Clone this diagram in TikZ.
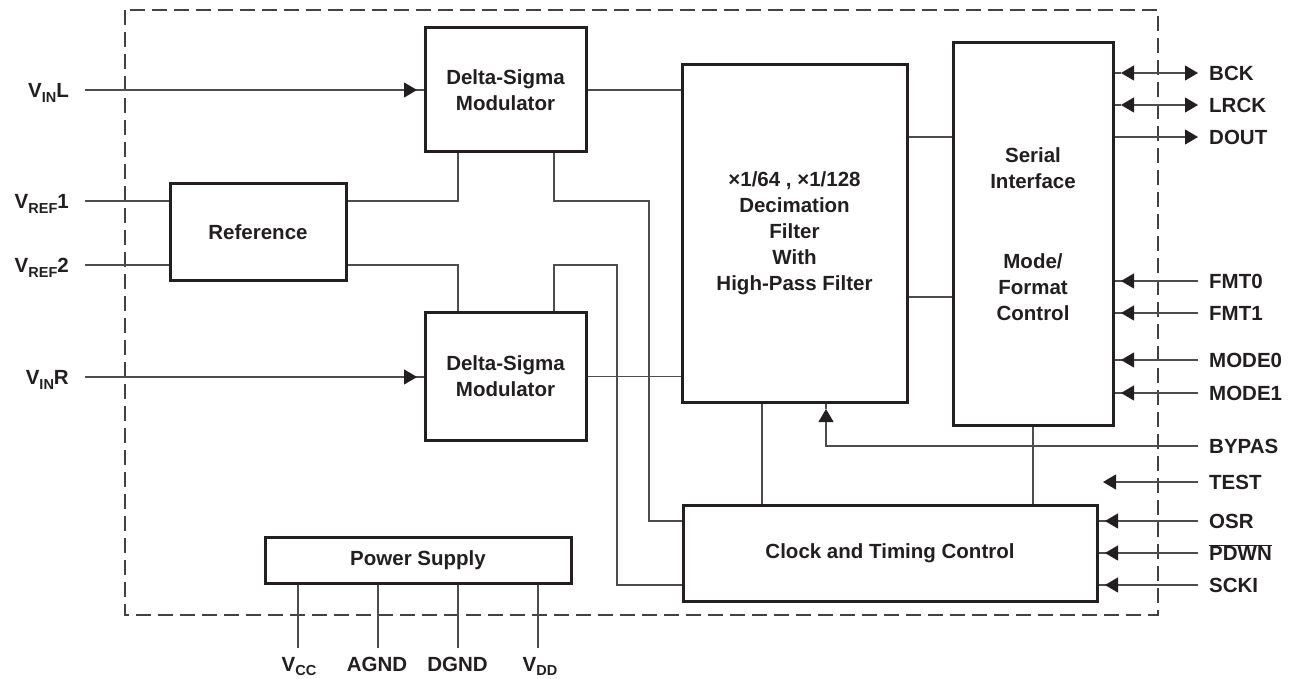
\documentclass[tikz,border=0pt]{standalone}
\usepackage{fontspec}
\setmainfont{Liberation Sans}
\usetikzlibrary{arrows.meta}
\definecolor{ink}{HTML}{231F20}
\definecolor{wire}{HTML}{4D4D4D}
\newcommand\sbs[1]{\raisebox{-5pt}{\fontsize{14.5}{14.5}\selectfont #1}}
\begin{document}
\begin{tikzpicture}[x=1pt,y=-1pt,
  txt/.style={font=\fontsize{20.5}{26}\selectfont\bfseries, text=ink, inner sep=0pt},
  blk/.style={txt, draw=ink, line width=3pt, align=center},
  conn/.style={draw=wire, line width=1.1pt},
  tip/.style={-{Triangle[length=13pt,width=15pt,color=ink]}},
  ditip/.style={{Triangle[length=13pt,width=15pt,color=ink]}-{Triangle[length=13pt,width=15pt,color=ink]}},
  pinR/.style={txt, anchor=base west},
  pinL/.style={txt, anchor=base east},
  pinB/.style={txt, anchor=base},
  chip/.style={draw=ink!85, line width=1.2pt, dash pattern=on 15pt off 7pt}]
\useasboundingbox (0,0) rectangle (1294,679);
\draw[chip] (125,10) rectangle (1158,615);

% blocks
\node[blk, minimum width=161pt, minimum height=124pt] (dsl) at (505.5,90) {Delta-Sigma\\Modulator};
\node[blk, minimum width=161pt, minimum height=127pt] (dsr) at (505.5,376.5) {Delta-Sigma\\Modulator};
\node[blk, minimum width=176pt, minimum height=97pt] (ref) at (258,232.5) {Reference};
\node[blk, minimum width=225pt, minimum height=337pt] (dec) at (794.5,233.5) {\texttimes1/64 , \texttimes1/128\\Decimation\\Filter\\With\\High-Pass Filter};
\node[blk, minimum width=160pt, minimum height=382pt] (ser) at (1033,234) {Serial\\Interface\\[54pt]Mode/\\Format\\Control};
\node[blk, minimum width=414pt, minimum height=96pt] (clk) at (890,553) {Clock and Timing Control};
\node[blk, minimum width=306pt, minimum height=46pt] (pwr) at (418,560) {Power Supply};

% helper columns / rows
\coordinate (c458) at (458,0);
\coordinate (c554) at (554,0);
\coordinate (c617) at (617,0);
\coordinate (c649) at (649,0);
\coordinate (c762) at (762,0);
\coordinate (r297) at (0,297);

% left pins
\coordinate (pVINL) at (85,90);
\coordinate (pVREF1) at (85,201);
\coordinate (pVREF2) at (85,265);
\coordinate (pVINR) at (85,377);
\coordinate (tVINL) at (417,90);
\coordinate (tVINR) at (417,377);
\node[pinL] (lVINL) at (69,97.5) {V\sbs{IN}L};
\node[pinL] (lVREF1) at (69,208.5) {V\sbs{REF}1};
\node[pinL] (lVREF2) at (69,272.5) {V\sbs{REF}2};
\node[pinL] (lVINR) at (69,384.5) {V\sbs{IN}R};

\draw[conn] (pVINL) -- (dsl.west |- pVINL);
\draw[conn,tip] (pVINL) -- (tVINL);
\draw[conn] (pVINR) -- (dsr.west |- pVINR);
\draw[conn,tip] (pVINR) -- (tVINR);
\draw[conn] (pVREF1) -- (ref.west |- pVREF1);
\draw[conn] (pVREF2) -- (ref.west |- pVREF2);

% internal wiring
\draw[conn] (dsl.east) -- (dec.west |- dsl.east);
\draw[conn] (dsr.east) -- (dec.west |- dsr.east);
\draw[conn] (ref.east |- pVREF1) -| (dsl.south -| c458);
\draw[conn] (ref.east |- pVREF2) -| (dsr.north -| c458);

% right pins
\coordinate (pBCK) at (1198,73);
\coordinate (pLRCK) at (1198,105);
\coordinate (pDOUT) at (1198,137);
\coordinate (pFMT0) at (1198,281);
\coordinate (pFMT1) at (1198,313);
\coordinate (pMODE0) at (1198,360);
\coordinate (pMODE1) at (1198,393);
\coordinate (pBYP) at (1198,446);
\coordinate (pTEST) at (1198,482);
\coordinate (pOSR) at (1198,521);
\coordinate (pPDWN) at (1198,553);
\coordinate (pSCKI) at (1198,585);

\coordinate (tBCK) at (1121,73);
\coordinate (tLRCK) at (1121,105);
\coordinate (tFMT0) at (1121,281);
\coordinate (tFMT1) at (1121,313);
\coordinate (tMODE0) at (1121,360);
\coordinate (tMODE1) at (1121,393);
\coordinate (tBYP) at (826,409);
\coordinate (tTEST) at (1103,482);
\coordinate (tOSR) at (1105,521);
\coordinate (tPDWN) at (1105,553);
\coordinate (tSCKI) at (1105,585);

\draw[conn] (dec.east |- pDOUT) -- (ser.west |- pDOUT);
\draw[conn] (dec.east |- r297) -- (ser.west |- r297);

\draw[conn] (dsl.south -| c554) |- (c649 |- pVREF1) -- (c649 |- pOSR) -- (clk.west |- pOSR);
\draw[conn] (dsr.north -| c554) |- (c617 |- pVREF2) -- (c617 |- pSCKI) -- (clk.west |- pSCKI);
\draw[conn] (dec.south -| c762) -- (clk.north -| c762);
\draw[conn] (ser.south) -- (clk.north -| ser.south);

\draw[conn] (ser.east |- pBCK) -- (tBCK);
\draw[conn,ditip] (tBCK) -- (pBCK);
\draw[conn] (ser.east |- pLRCK) -- (tLRCK);
\draw[conn,ditip] (tLRCK) -- (pLRCK);
\draw[conn,tip] (ser.east |- pDOUT) -- (pDOUT);

\foreach \p in {FMT0,FMT1,MODE0,MODE1}{
  \draw[conn] (p\p) -- (ser.east |- p\p);
  \draw[conn,tip] (p\p) -- (t\p);
}
\foreach \p in {OSR,PDWN,SCKI}{
  \draw[conn] (p\p) -- (clk.east |- p\p);
  \draw[conn,tip] (p\p) -- (t\p);
}
\draw[conn,tip] (pTEST) -- (tTEST);
\draw[conn,tip] (pBYP) -| (tBYP);
\draw[conn] (tBYP) -- (dec.south -| tBYP);

\node[pinR] (lBCK) at (1209,80.5) {BCK};
\node[pinR] (lLRCK) at (1209,112.5) {LRCK};
\node[pinR] (lDOUT) at (1209,144.5) {DOUT};
\node[pinR] (lFMT0) at (1209,288.5) {FMT0};
\node[pinR] (lFMT1) at (1209,320.5) {FMT1};
\node[pinR] (lMODE0) at (1209,367.5) {MODE0};
\node[pinR] (lMODE1) at (1209,400.5) {MODE1};
\node[pinR] (lBYP) at (1209,453.5) {BYPAS};
\node[pinR] (lTEST) at (1209,489.5) {TEST};
\node[pinR] (lOSR) at (1209,528.5) {OSR};
\node[pinR] (lPDWN) at (1209,560.5) {$\overline{\hbox{PDWN}}$};
\node[pinR] (lSCKI) at (1209,592.5) {SCKI};

% power pins
\coordinate (pVCC) at (298,648);
\coordinate (pAGND) at (378,648);
\coordinate (pDGND) at (458,648);
\coordinate (pVDD) at (538,648);
\foreach \p in {VCC,AGND,DGND,VDD}{
  \draw[conn] (pwr.south -| p\p) -- (p\p);
}
\node[pinB] (lVCC) at (299,671) {V\raisebox{-4pt}{\fontsize{14.5}{14.5}\selectfont CC}};
\node[pinB] (lAGND) at (377,671) {AGND};
\node[pinB] (lDGND) at (457.5,671) {DGND};
\node[pinB] (lVDD) at (540,671) {V\raisebox{-4pt}{\fontsize{14.5}{14.5}\selectfont DD}};
\end{tikzpicture}
\end{document}
